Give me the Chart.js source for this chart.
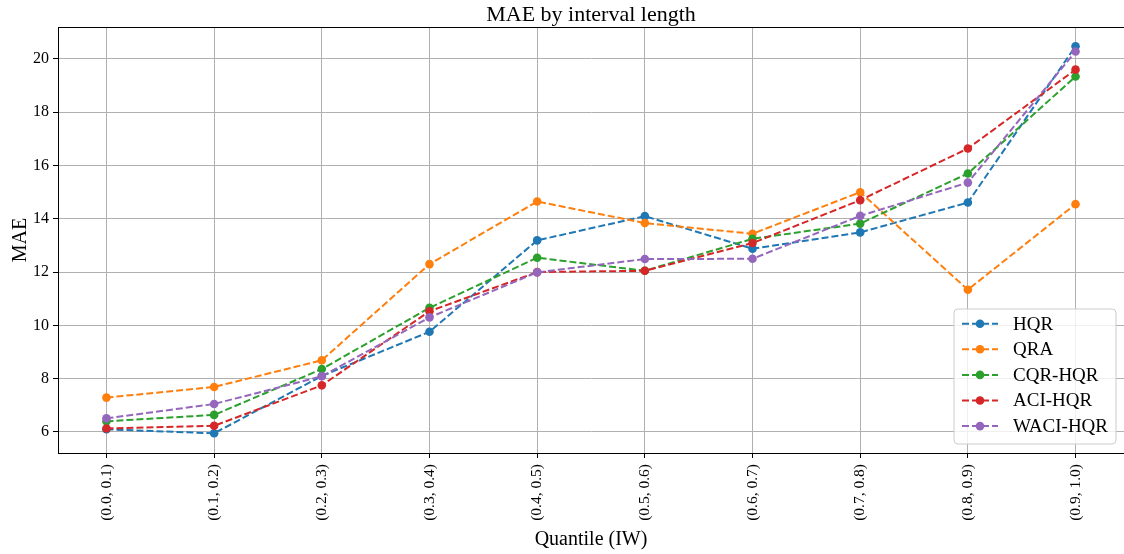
<!DOCTYPE html>
<html>
<head>
<meta charset="utf-8">
<title>MAE by interval length</title>
<script src="https://cdn.jsdelivr.net/npm/chart.js@4"></script>
<style>
  html, body { margin: 0; padding: 0; background: #fff; }
  #wrap { width: 1124px; height: 554px; }
</style>
</head>
<body>
<div id="wrap"><canvas id="maeChart" width="1124" height="554"></canvas></div>
<script>
// categories (quantile intervals of interval width)
const quantileLabels = ["(0.0, 0.1)", "(0.1, 0.2)", "(0.2, 0.3)", "(0.3, 0.4)", "(0.4, 0.5)",
                        "(0.5, 0.6)", "(0.6, 0.7)", "(0.7, 0.8)", "(0.8, 0.9)", "(0.9, 1.0)"];
const yTickValues = [6, 8, 10, 12, 14, 16, 18, 20];

// MAE per model
const hqr    = [6.10, 5.95, 8.10, 9.76, 13.19, 14.10, 12.88, 13.49, 14.61, 20.48];
const qra    = [7.29, 7.69, 8.69, 12.30, 14.65, 13.84, 13.44, 15.00, 11.34, 14.55];
const cqrHqr = [6.40, 6.64, 8.36, 10.66, 12.54, 12.05, 13.25, 13.82, 15.70, 19.34];
const aciHqr = [6.13, 6.23, 7.75, 10.53, 12.00, 12.05, 13.09, 14.70, 16.64, 19.60];
const waciHqr = [6.51, 7.05, 8.09, 10.30, 11.99, 12.49, 12.50, 14.11, 15.36, 20.28];

const seriesNames = ["HQR", "QRA", "CQR-HQR", "ACI-HQR", "WACI-HQR"];
const seriesValues = [hqr, qra, cqrHqr, aciHqr, waciHqr];
const seriesColors = ["#1f77b4", "#ff7f0e", "#2ca02c", "#d62728", "#9467bd"];

const FONT = "'Liberation Serif', 'DejaVu Serif', serif";
const DASH = [7, 3];

const datasets = seriesNames.map((name, i) => ({
  label: name,
  data: seriesValues[i].map((v, j) => ({ x: j, y: v })),
  borderColor: seriesColors[i],
  backgroundColor: seriesColors[i],
  borderWidth: 2,
  borderDash: DASH,
  pointRadius: 4.3,
  pointBorderWidth: 0,
  pointBackgroundColor: seriesColors[i],
  tension: 0,
  order: seriesNames.length - i, // later series on top, like matplotlib
  clip: false
}));

// frame, title, axis titles and the inside legend
const decorations = {
  id: "decorations",
  afterDraw(chart) {
    const { ctx, chartArea: a } = chart;
    ctx.save();
    ctx.strokeStyle = "#000";
    ctx.lineWidth = 1;
    ctx.strokeRect(a.left + 0.5, a.top + 0.5, a.right - a.left, a.bottom - a.top);

    ctx.fillStyle = "#000";
    ctx.textAlign = "center";
    ctx.textBaseline = "alphabetic";
    ctx.font = "22px " + FONT;
    ctx.fillText("MAE by interval length", (a.left + a.right) / 2, 20.5);

    ctx.font = "20px " + FONT;
    ctx.fillText("Quantile (IW)", (a.left + a.right) / 2, 545);

    ctx.save();
    ctx.translate(26, (a.top + a.bottom) / 2);
    ctx.rotate(-Math.PI / 2);
    ctx.fillText("MAE", 0, 0);
    ctx.restore();

    // legend box
    const bx = 954, by = 309, bw = 162, bh = 135, r = 4;
    ctx.beginPath();
    ctx.moveTo(bx + r, by);
    ctx.arcTo(bx + bw, by, bx + bw, by + bh, r);
    ctx.arcTo(bx + bw, by + bh, bx, by + bh, r);
    ctx.arcTo(bx, by + bh, bx, by, r);
    ctx.arcTo(bx, by, bx + bw, by, r);
    ctx.closePath();
    ctx.fillStyle = "rgba(255,255,255,0.8)";
    ctx.fill();
    ctx.strokeStyle = "#cccccc";
    ctx.stroke();

    ctx.font = "19px " + FONT;
    ctx.textAlign = "left";
    ctx.textBaseline = "middle";
    seriesNames.forEach((name, i) => {
      const y = 323.7 + i * 25.6;
      ctx.strokeStyle = seriesColors[i];
      ctx.lineWidth = 2;
      ctx.setLineDash(DASH);
      ctx.beginPath();
      ctx.moveTo(962, y);
      ctx.lineTo(998, y);
      ctx.stroke();
      ctx.setLineDash([]);
      ctx.fillStyle = seriesColors[i];
      ctx.beginPath();
      ctx.arc(980, y, 4.3, 0, Math.PI * 2);
      ctx.fill();
      ctx.fillStyle = "#000";
      ctx.fillText(name, 1013, y + 1);
    });
    ctx.restore();
  }
};

new Chart(document.getElementById("maeChart"), {
  type: "line",
  data: { datasets },
  options: {
    responsive: false,
    animation: false,
    devicePixelRatio: 1,
    layout: { autoPadding: false, padding: { top: 27, right: 0, bottom: 0, left: 0 } },
    plugins: { legend: { display: false }, title: { display: false }, tooltip: { enabled: false } },
    scales: {
      x: {
        type: "linear",
        min: -0.45,
        max: quantileLabels.length - 1 + 0.45,
        afterBuildTicks: s => { s.ticks = quantileLabels.map((_, i) => ({ value: i })); },
        afterFit: s => { s.height = 101; s.paddingLeft = 0; s.paddingRight = 0; },
        ticks: {
          autoSkip: false,
          minRotation: 90,
          maxRotation: 90,
          padding: 6,
          color: "#000",
          font: { family: FONT, size: 15.5 },
          callback: v => quantileLabels[v]
        },
        grid: { color: "#b0b0b0", lineWidth: 1, tickColor: "#000", tickLength: 5 },
        border: { color: "#000", width: 1 }
      },
      y: {
        type: "linear",
        min: 5.21,
        max: 21.2,
        afterBuildTicks: s => { s.ticks = yTickValues.map(v => ({ value: v })); },
        afterFit: s => { s.width = 58; s.paddingTop = 0; s.paddingBottom = 0; },
        ticks: {
          padding: 4,
          color: "#000",
          font: { family: FONT, size: 16 },
          callback: v => String(v)
        },
        grid: { color: "#b0b0b0", lineWidth: 1, tickColor: "#000", tickLength: 5 },
        border: { color: "#000", width: 1 }
      }
    }
  },
  plugins: [decorations]
});
</script>
</body>
</html>
